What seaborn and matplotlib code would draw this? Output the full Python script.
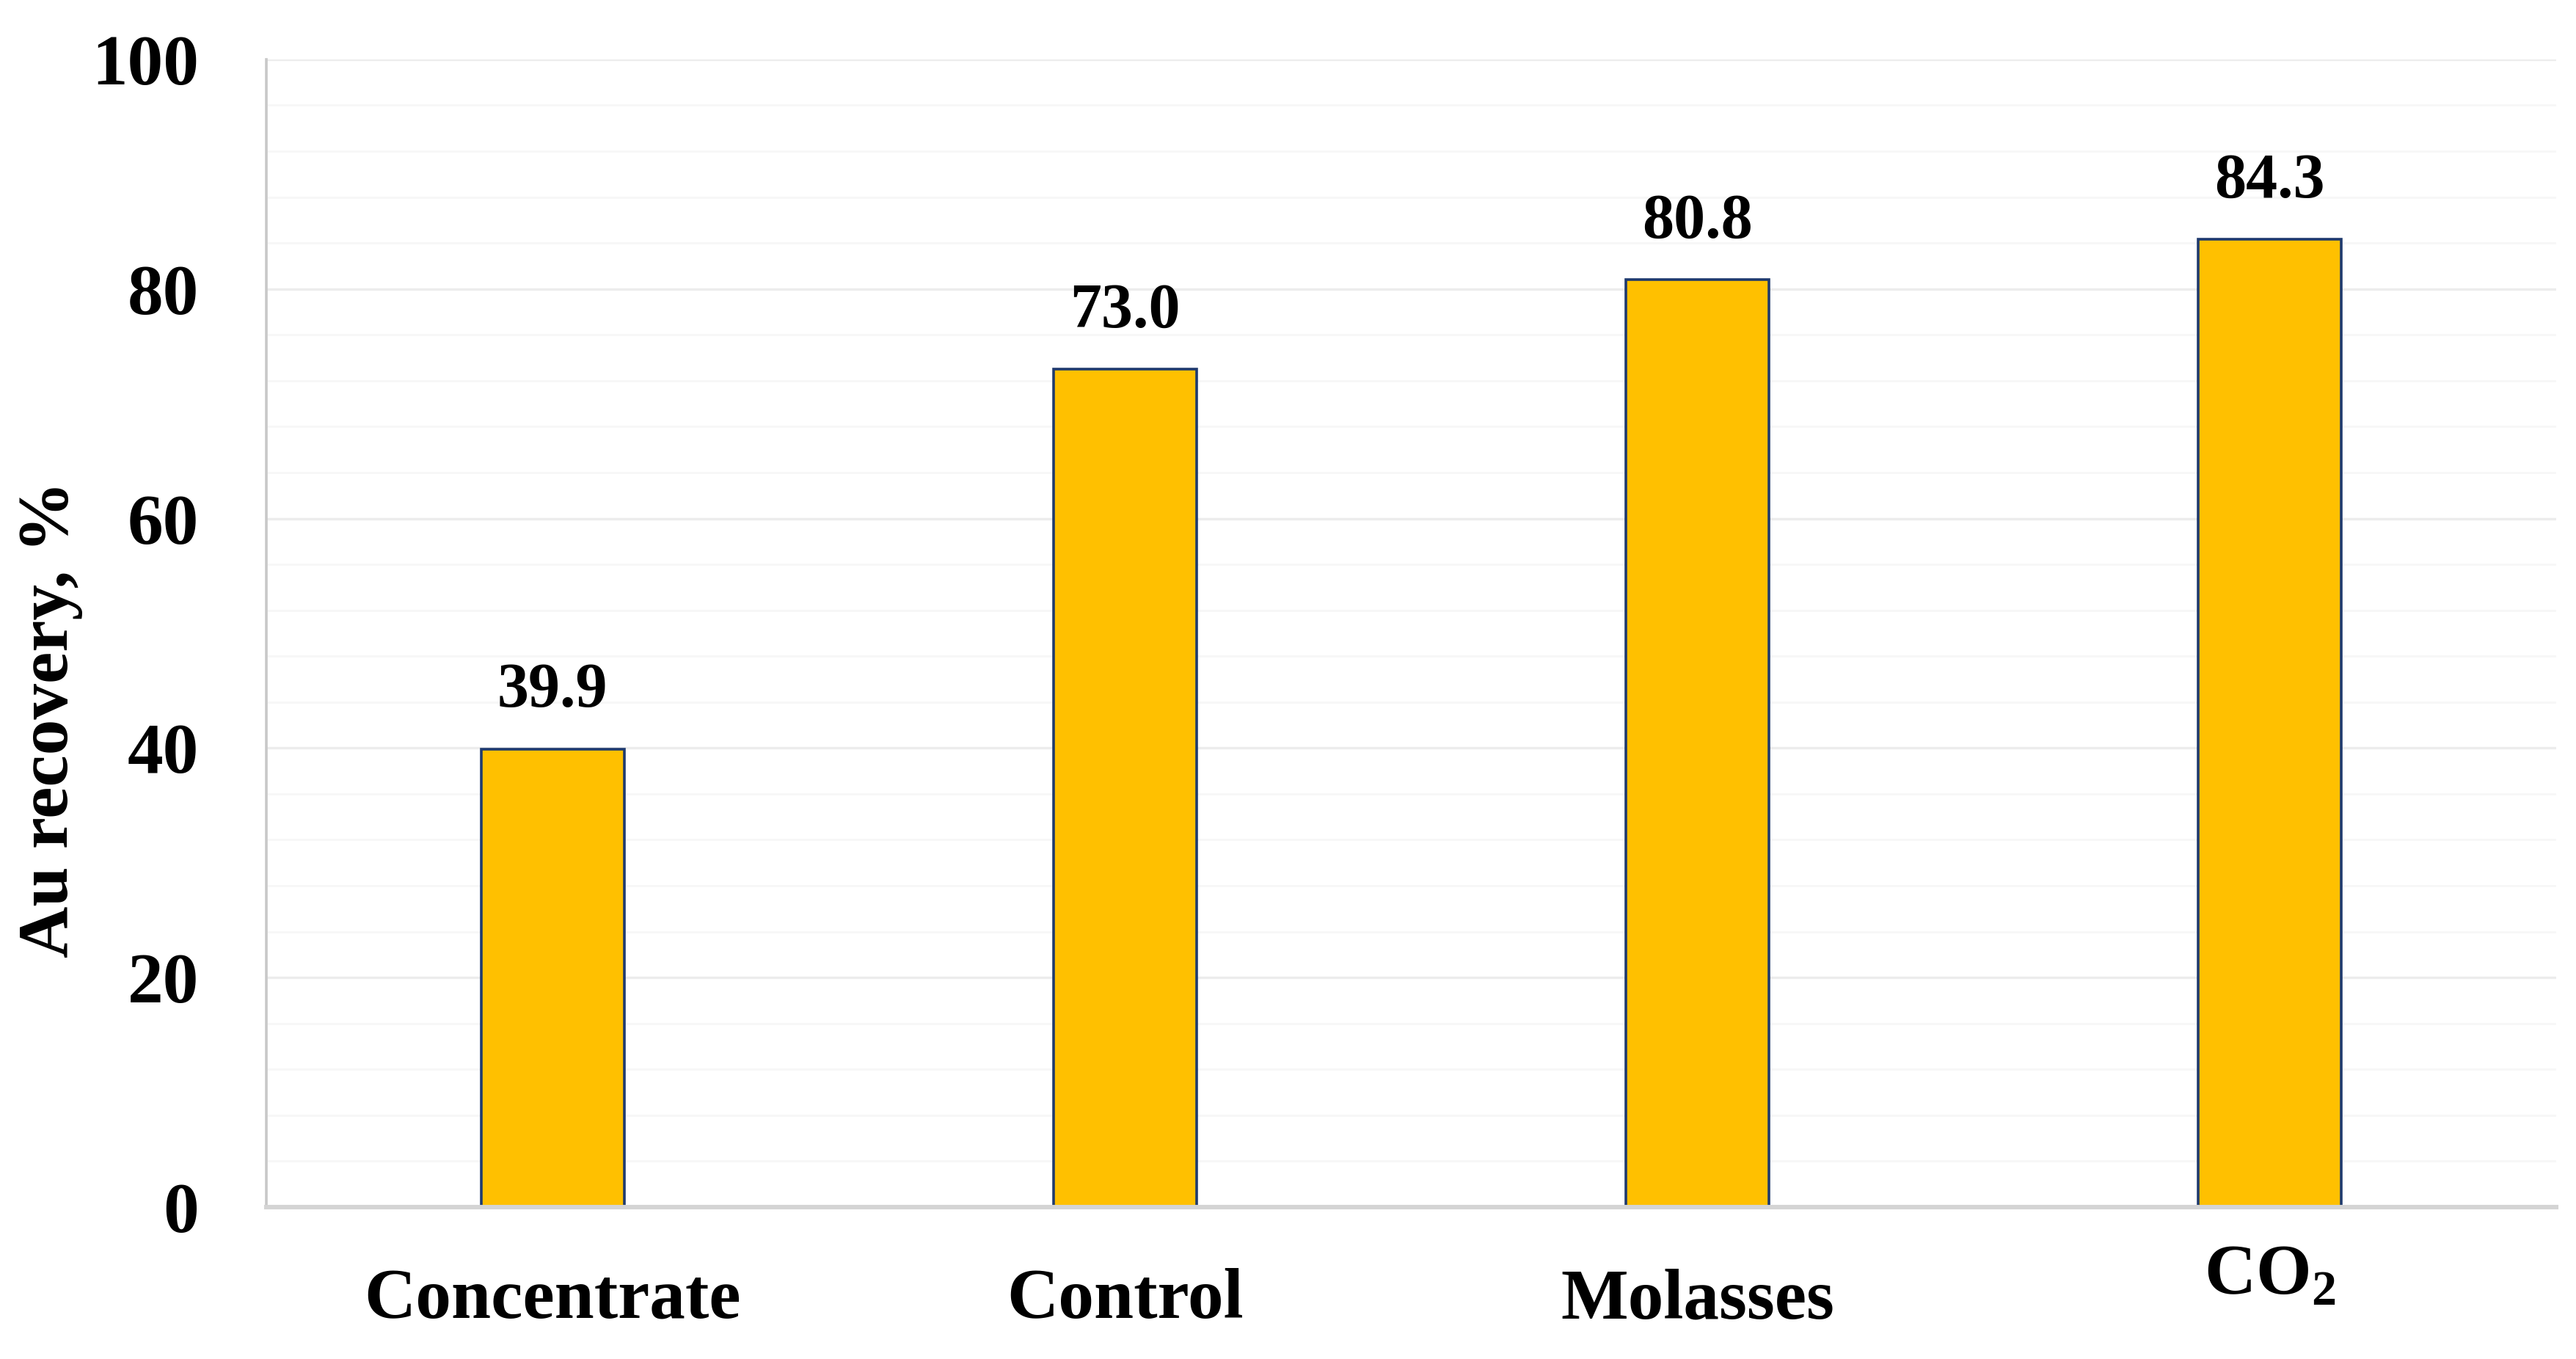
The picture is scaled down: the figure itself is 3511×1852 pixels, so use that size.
import numpy as np
import matplotlib
matplotlib.use("Agg")
import matplotlib.pyplot as plt
import matplotlib.transforms as mtransforms
import seaborn as sns
from matplotlib.ticker import MultipleLocator

# data
categories = ["Concentrate", "Control", "Molasses", r"CO$_\mathregular{2}$"]
recovery = [39.9, 73.0, 80.8, 84.3]
y_ticks = [0, 20, 40, 60, 80, 100]

sns.set_style("white")
plt.rcParams["font.family"] = ["Liberation Serif", "DejaVu Serif"]
plt.rcParams["font.weight"] = "bold"
plt.rcParams["mathtext.fontset"] = "custom"
plt.rcParams["mathtext.rm"] = "Liberation Serif:bold"
plt.rcParams["text.color"] = "black"
plt.rcParams["axes.labelcolor"] = "black"
plt.rcParams["xtick.labelcolor"] = "black"
plt.rcParams["ytick.labelcolor"] = "black"

fig = plt.figure(figsize=(3511 / 200, 1852 / 200), dpi=200)
ax = fig.add_axes([0.1034, 0.1118, 0.8889, 0.8445])

sns.barplot(x=categories, y=recovery, color="#FFC000", saturation=1,
            width=0.25, edgecolor="#1F3A6E", linewidth=1.3, ax=ax)

# value labels
ax.bar_label(ax.containers[0], fmt="%.1f", padding=14,
             fontsize=31, fontweight="bold", color="black")

ax.set_ylim(0, 100)
ax.set_xlim(-0.5, 3.5)
ax.set_yticks(y_ticks)
ax.yaxis.set_minor_locator(MultipleLocator(4))
ax.grid(axis="y", which="major", color="#ececec", linewidth=1.2)
ax.grid(axis="y", which="minor", color="#f7f7f7", linewidth=1.0)
ax.set_axisbelow(True)

for side in ["top", "right"]:
    ax.spines[side].set_visible(False)
ax.spines["left"].set_color("#c8c8c8")
ax.spines["left"].set_linewidth(1.3)
ax.spines["bottom"].set_color("#d4d4d4")
ax.spines["bottom"].set_linewidth(2.2)

ax.tick_params(axis="y", which="major", length=11, width=1.4, color="#c8c8c8",
               pad=22, labelsize=35)
ax.tick_params(axis="y", which="minor", length=0)
ax.tick_params(axis="x", length=0, pad=30, labelsize=35)
for lab in ax.get_xticklabels() + ax.get_yticklabels():
    lab.set_fontweight("bold")
    lab.set_color("black")

# the CO2 label sits a little higher in the original
co2 = ax.get_xticklabels()[-1]
co2.set_transform(co2.get_transform() +
                  mtransforms.ScaledTranslation(0, 12 / 72, fig.dpi_scale_trans))

ax.set_ylabel("Au recovery, %", fontsize=35, fontweight="bold")
ax.yaxis.set_label_coords(-0.080, 0.425)

fig.savefig("out.png", dpi=200, facecolor="white")
